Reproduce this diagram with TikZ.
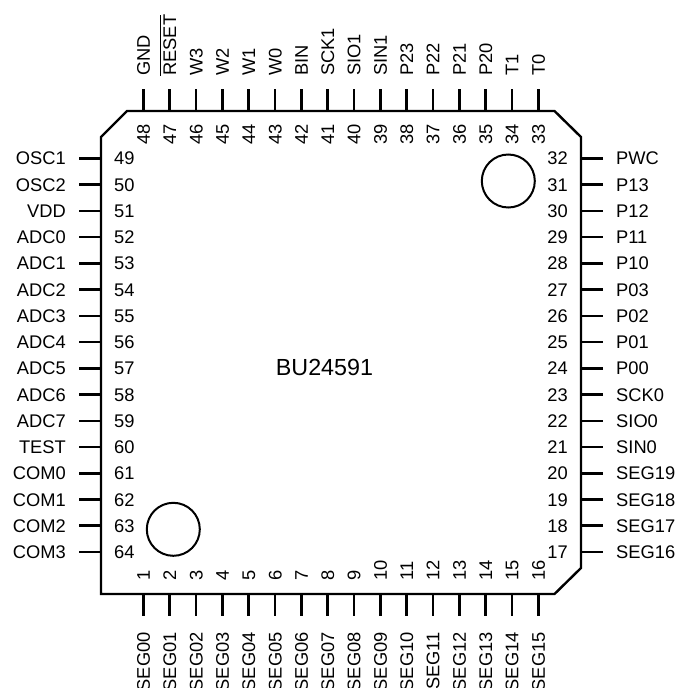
\documentclass[tikz,border=0pt]{standalone}
\usepackage{fontspec}
\setmainfont{Liberation Sans}
\usetikzlibrary{calc,positioning}

\begin{document}
\begin{tikzpicture}[
            x=1pt,y=-1pt,
            node distance=13pt,
            every node/.style={inner sep=0pt,text height=13.1pt,text depth=0pt,font=\fontsize{18.3}{20}\selectfont},
            pin/.style={line width=2.6pt},
            outline/.style={line width=2.4pt,line join=miter}
        ]
            \useasboundingbox (0,0) rectangle (680,688);

            % package outline
            \coordinate (c1) at (127,111);
            \coordinate (c2) at (554.5,111);
            \coordinate (c3) at (581,137);
            \coordinate (c4) at (581,568);
            \coordinate (c5) at (554.5,594);
            \coordinate (c6) at (101,594);
            \coordinate (c7) at (101,137);
            \draw [outline] (c1) -- (c2) -- (c3) -- (c4) -- (c5) -- (c6) -- (c7) -- cycle;

            % index marks
            \coordinate (markA) at (508.3,181);
            \coordinate (markB) at (173.3,529.3);
            \draw [line width=2pt] (markA) circle (26.5);
            \draw [line width=2pt] (markB) circle (26.5);

            \node (chip) at (324.5,367) [font=\fontsize{23.3}{26}\selectfont,text height=16.7pt] {BU24591};

            % left side
            \foreach \n/\lab [count=\i from 0, evaluate=\i as \y using 158.4+26.24*\i] in {
                49/OSC1,50/OSC2,51/VDD,52/ADC0,53/ADC1,54/ADC2,55/ADC3,56/ADC4,
                57/ADC5,58/ADC6,59/ADC7,60/TEST,61/COM0,62/COM1,63/COM2,64/COM3}
            {
                \coordinate (w\n) at (101,\y);
                \coordinate (o\n) at (79,\y);
                \draw [pin] (w\n) -- (o\n);
                \node (n\n) [right=of w\n] {\n};
                \node (l\n) [left=of o\n]  {\lab};
            }

            % right side
            \foreach \n/\lab [count=\i from 0, evaluate=\i as \y using 158.4+26.24*\i] in {
                32/PWC,31/P13,30/P12,29/P11,28/P10,27/P03,26/P02,25/P01,
                24/P00,23/SCK0,22/SIO0,21/SIN0,20/SEG19,19/SEG18,18/SEG17,17/SEG16}
            {
                \coordinate (w\n) at (581,\y);
                \coordinate (o\n) at (603,\y);
                \draw [pin] (w\n) -- (o\n);
                \node (n\n) [left=of w\n]  {\n};
                \node (l\n) [right=of o\n] {\lab};
            }

            % top side
            \foreach \n/\lab [count=\i from 0, evaluate=\i as \x using 143.3+26.33*\i] in {
                48/GND,47/{\rlap{\rule[15.4pt]{60.9pt}{0.9pt}}RESET},46/W3,45/W2,44/W1,43/W0,42/BIN,41/SCK1,
                40/SIO1,39/SIN1,38/P23,37/P22,36/P21,35/P20,34/T1,33/T0}
            {
                \coordinate (w\n) at (\x,111);
                \coordinate (o\n) at (\x,89);
                \draw [pin] (w\n) -- (o\n);
                \node (n\n) [below=of w\n,yshift=-21pt,anchor=west,rotate=90] {\n};
                \node (l\n) [above=of o\n,anchor=west,rotate=90]              {\lab};
            }

            % bottom side
            \foreach \n/\lab [count=\i from 0, evaluate=\i as \x using 143.3+26.33*\i] in {
                1/SEG00,2/SEG01,3/SEG02,4/SEG03,5/SEG04,6/SEG05,7/SEG06,8/SEG07,
                9/SEG08,10/SEG09,11/SEG10,12/SEG11,13/SEG12,14/SEG13,15/SEG14,16/SEG15}
            {
                \coordinate (w\n) at (\x,594);
                \coordinate (o\n) at (\x,616);
                \draw [pin] (w\n) -- (o\n);
                \node (n\n) [above=of w\n,anchor=west,rotate=90] {\n};
                \node (l\n) [below=16pt of o\n,anchor=east,rotate=90] {\lab};
            }
        \end{tikzpicture}
\end{document}
